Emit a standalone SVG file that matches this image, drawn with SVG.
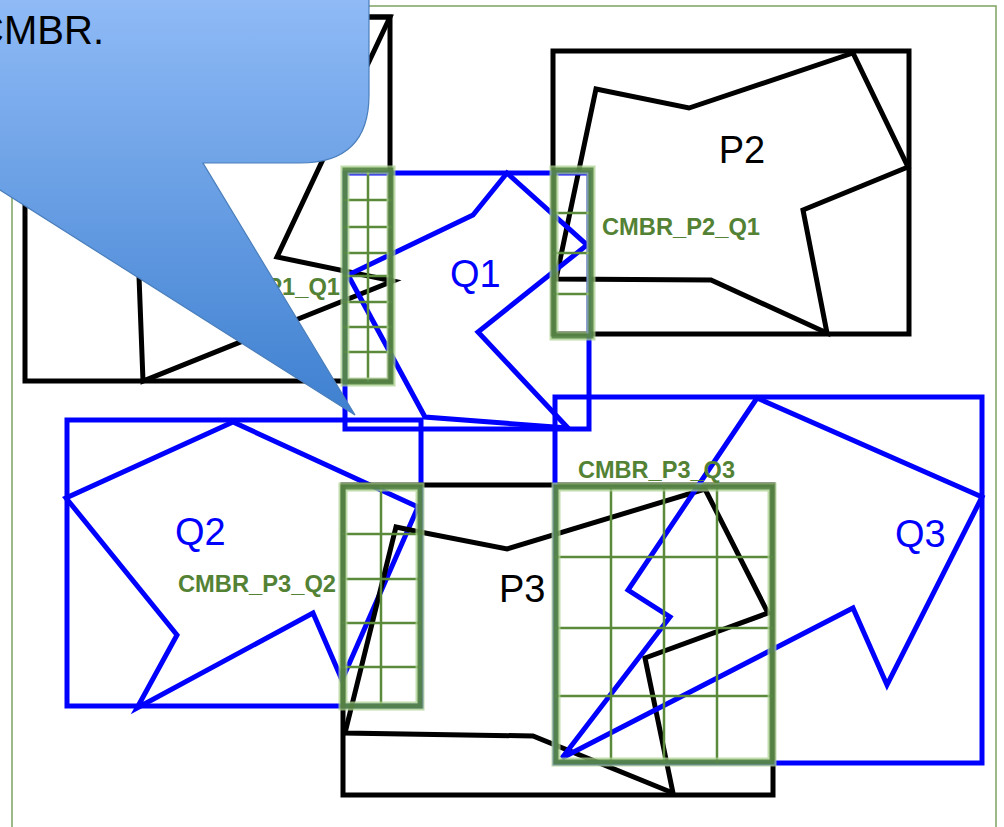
<svg xmlns="http://www.w3.org/2000/svg" width="1004" height="827" viewBox="0 0 1004 827">
<style>
.blk{fill:none;stroke:#000;stroke-width:5;stroke-linejoin:miter}
.blu{fill:none;stroke:#0000ff;stroke-width:5;stroke-linejoin:miter}
.cm1{fill:none;stroke:#a9d08e;stroke-width:9;stroke-opacity:0.75}
.cm2{fill:none;stroke:#4a7a3a;stroke-width:5;stroke-opacity:0.8}
.grid{fill:none;stroke:#5a8a3a;stroke-width:2.5}
.lbl{font-family:"Liberation Sans",Arial,sans-serif;font-size:38px}
.cml{font-family:"Liberation Sans",Arial,sans-serif;font-size:23px;font-weight:bold;fill:#548235}
</style>
<defs>
<linearGradient id="cg" gradientUnits="userSpaceOnUse" x1="0" y1="0" x2="0" y2="415">
<stop offset="0" stop-color="#8fbaf6"/>
<stop offset="1" stop-color="#3e80d0"/>
</linearGradient>
</defs>
<rect x="0" y="0" width="1004" height="827" fill="#fff"/>
<rect id="frame" x="12" y="6" width="984" height="840" fill="none" stroke="#7fa262" stroke-width="1.5"/>

<g id="P1">
<rect class="blk" x="25" y="17" width="365" height="364"/>
<polygon class="blk" points="390,17 277,257 393,281 143,381 138,250 200,17"/>
</g>
<g id="P2">
<rect class="blk" x="553" y="51" width="356" height="283"/>
<polygon class="blk" points="596,89 689,108 853,53 908,167 803,210 827,333 711,280 556,279"/>
<text class="lbl" x="742" y="163" text-anchor="middle" fill="#000">P2</text>
</g>
<g id="Q1">
<rect class="blu" x="345" y="173" width="244" height="256"/>
<polygon class="blu" points="507,173 587,245 478,332 568,428 425,417 348,275 473,215"/>
<text class="lbl" x="450" y="287" fill="#0000ff">Q1</text>
</g>
<g id="Q2">
<rect class="blu" x="67" y="420" width="354" height="286"/>
<polygon class="blu" points="233,422 418,507 342,680 313,613 137,708 177,635 66,498"/>
<text class="lbl" x="175" y="545" fill="#0000ff">Q2</text>
</g>
<g id="P3">
<rect class="blk" x="343" y="485" width="430" height="310"/>
<polygon class="blk" points="396,527 415,531 507,549 705,489 768,613 645,658 673,793 533,736 345,733"/>
<text class="lbl" x="499" y="602" fill="#000">P3</text>
</g>
<g id="Q3">
<rect class="blu" x="555" y="397" width="427" height="366"/>
<polygon class="blu" points="757,398 982,497 887,685 853,608 562,758 670,617 628,590"/>
<text class="lbl" x="895" y="547" fill="#0000ff">Q3</text>
</g>

<g id="CMBR_P1_Q1">
<path class="grid" d="M368,170V382M343,200H392M343,227H392M343,253H392M343,276H392M343,302H392M343,327H392M343,352H392"/>
<rect class="cm1" x="345" y="170" width="46" height="212"/>
<rect class="cm2" x="345" y="170" width="46" height="212"/>
<text class="cml" x="340" y="295" text-anchor="end" textLength="158" lengthAdjust="spacingAndGlyphs">CMBR_P1_Q1</text>
</g>
<g id="CMBR_P2_Q1">
<path class="grid" d="M553,213H592M553,253H592M553,294H592"/>
<rect class="cm1" x="554" y="170" width="37" height="166"/>
<rect class="cm2" x="554" y="170" width="37" height="166"/>
<text class="cml" x="602" y="235" textLength="158" lengthAdjust="spacingAndGlyphs">CMBR_P2_Q1</text>
</g>
<g id="CMBR_P3_Q2">
<path class="grid" d="M381,486V706M342,534H421M342,579H421M342,623H421M342,667H421"/>
<rect class="cm1" x="343" y="487" width="77" height="219"/>
<rect class="cm2" x="343" y="487" width="77" height="219"/>
<text class="cml" x="178" y="592" textLength="158" lengthAdjust="spacingAndGlyphs">CMBR_P3_Q2</text>
</g>
<g id="CMBR_P3_Q3">
<path class="grid" d="M611,486V763M664,486V763M717,486V763M555,557H773M555,628H773M555,696H773"/>
<rect class="cm1" x="556" y="487" width="216" height="275"/>
<rect class="cm2" x="556" y="487" width="216" height="275"/>
<text class="cml" x="578" y="478" textLength="157" lengthAdjust="spacingAndGlyphs">CMBR_P3_Q3</text>
</g>

<g id="callout">
<path d="M-60,-60H369V95Q369,163 300,163H203L355,415L-60,152Z" fill="url(#cg)" stroke="#4a7ebb" stroke-width="1.2"/>
<text x="104" y="44" text-anchor="end" font-family="Liberation Sans,Arial,sans-serif" font-size="40" fill="#000">CMBR.</text>
</g>
</svg>
